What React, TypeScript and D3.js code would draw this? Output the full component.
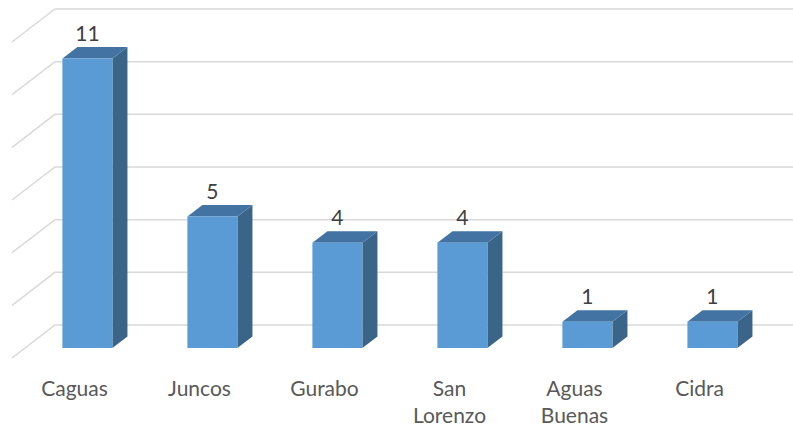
import * as d3 from 'd3';
import { useEffect, useRef } from 'react';

const categories = ['Caguas', 'Juncos', 'Gurabo', 'San Lorenzo', 'Aguas Buenas', 'Cidra'];
const values = [11, 5, 4, 4, 1, 1];
const yTicks = [0, 2, 4, 6, 8, 10, 12];

const App = () => {
    const ref = useRef<SVGSVGElement | null>(null);

    useEffect(() => {
        drawChart();
    }, []);

    const drawChart = () => {
        const width = 793;
        // depth of floor in screen px (back wall -> front edge)
        const depthX = 43;
        const depthY = 33;
        const proj = (x: number, y: number, z: number) => [x - depthX * z, y + depthY * z];

        const svg = d3.select(ref.current);
        svg.selectAll('*').remove();

        const x = d3.scaleBand().domain(categories).range([55, 805]);
        const y = d3.scaleLinear().domain([0, 12]).range([325, 9]);

        // gridlines: diagonal on the side wall + horizontal on the back wall
        const grid = svg.append('g');
        yTicks.forEach((t) => {
            const [fx, fy] = proj(55, y(t), 1);
            grid.append('polyline')
                .attr('points', `${fx},${fy} 55,${y(t)} ${width},${y(t)}`)
                .attr('fill', 'none')
                .attr('stroke', '#d9d9d9')
                .attr('stroke-width', 1.5);
        });

        const zBack = 0.35;
        const zFront = 0.7;
        const bw = x.bandwidth() * 0.4;

        const bars = svg.append('g');
        categories.forEach((c, i) => {
            const cx = (x(c) as number) + x.bandwidth() / 2;
            const x0 = cx - bw / 2;
            const x1 = cx + bw / 2;
            const yt = y(values[i]);
            const yb = y(0);
            const fTL = proj(x0, yt, zFront);
            const fTR = proj(x1, yt, zFront);
            const fBR = proj(x1, yb, zFront);
            const fBL = proj(x0, yb, zFront);
            const bTL = proj(x0, yt, zBack);
            const bTR = proj(x1, yt, zBack);
            const bBR = proj(x1, yb, zBack);
            const pts = (a: number[][]) => a.map((p) => p.join(',')).join(' ');

            // side face
            bars.append('polygon')
                .attr('points', pts([fTR, bTR, bBR, fBR]))
                .attr('fill', '#3a6589');
            // top face
            bars.append('polygon')
                .attr('points', pts([fTL, bTL, bTR, fTR]))
                .attr('fill', '#4373a3');
            // front face
            bars.append('polygon')
                .attr('points', pts([fTL, fTR, fBR, fBL]))
                .attr('fill', '#5b9bd5');

            // value label
            bars.append('text')
                .attr('x', fTL[0] + bw / 2)
                .attr('y', bTL[1] - 6)
                .attr('text-anchor', 'middle')
                .style('font-family', 'Lato, "Open Sans", sans-serif')
                .style('font-size', '21px')
                .style('fill', '#404040')
                .text(values[i]);
        });

        // category labels at the front edge of the floor
        const labels = svg.append('g');
        categories.forEach((c) => {
            const cx = (x(c) as number) + x.bandwidth() / 2 - depthX;
            const lines = c.split(' ');
            const t = labels.append('text')
                .attr('text-anchor', 'middle')
                .style('font-family', 'Lato, "Open Sans", sans-serif')
                .style('font-size', '21px')
                .style('fill', '#595959');
            lines.forEach((l, k) => {
                t.append('tspan')
                    .attr('x', cx)
                    .attr('y', 396 + k * 27)
                    .text(l);
            });
        });
    };

    return (
        <svg
            ref={ref}
            width={793}
            height={430}
            style={{ position: 'absolute', left: 0, top: 0, background: '#fff' }}
        />
    );
};

export default App;
